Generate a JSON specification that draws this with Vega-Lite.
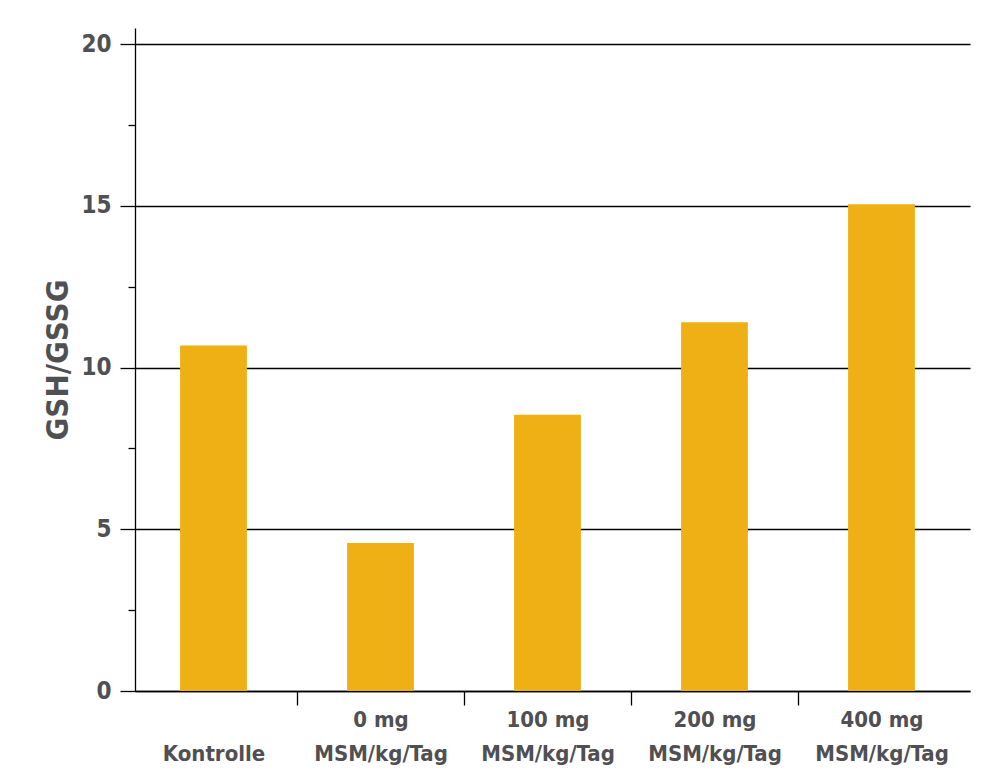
{
  "$schema": "https://vega.github.io/schema/vega-lite/v6.json",
  "width": 835,
  "height": 663,
  "autosize": "none",
  "padding": {"left": 135, "top": 28, "right": 30, "bottom": 92},
  "background": "white",
  "config": {
    "view": {"stroke": null},
    "font": "DejaVu Sans Condensed"
  },
  "data": {
    "values": [
      {"gruppe": "Kontrolle", "wert": 10.68},
      {"gruppe": "0 mg MSM/kg/Tag", "wert": 4.58},
      {"gruppe": "100 mg MSM/kg/Tag", "wert": 8.54},
      {"gruppe": "200 mg MSM/kg/Tag", "wert": 11.4},
      {"gruppe": "400 mg MSM/kg/Tag", "wert": 15.05}
    ]
  },
  "mark": {"type": "bar", "color": "#EFB015"},
  "encoding": {
    "x": {
      "field": "gruppe",
      "type": "nominal",
      "sort": null,
      "scale": {"paddingInner": 0.6, "paddingOuter": 0.3, "align": 0.45},
      "axis": {
        "title": null,
        "labelAngle": 0,
        "tickSize": 14,
        "tickOffset": -83.5,
        "labelOffset": 83.5,
        "tickColor": "black",
        "tickWidth": 1.3,
        "tickOpacity": {"expr": "datum.value === 'Kontrolle' ? 0 : 1"},
        "domainColor": "black",
        "domainWidth": 1.3,
        "labelFont": "DejaVu Sans Condensed",
        "labelFontWeight": "bold",
        "labelFontSize": 22,
        "labelColor": "#505053",
        "labelBaseline": "top",
        "labelLineHeight": 34,
        "labelPadding": {"expr": "datum.value === 'Kontrolle' ? 38 : 4"},
        "labelLimit": 300,
        "labelExpr": "indexof(datum.value, ' MSM') > 0 ? [replace(datum.value, ' MSM/kg/Tag', ''), 'MSM/kg/Tag'] : datum.value"
      }
    },
    "y": {
      "field": "wert",
      "type": "quantitative",
      "scale": {"domain": [0, 20.5], "nice": false},
      "axis": {
        "title": "GSH/GSSG",
        "titleFont": "DejaVu Sans Condensed",
        "titleFontWeight": "bold",
        "titleFontSize": 31,
        "titleColor": "#505053",
        "titlePadding": 6,
        "values": [0, 2.5, 5, 7.5, 10, 12.5, 15, 17.5, 20],
        "labelExpr": "datum.value % 5 === 0 ? datum.label : ''",
        "grid": true,
        "gridColor": "black",
        "gridWidth": 1.3,
        "gridOpacity": {"expr": "datum.value % 5 === 0 ? 1 : 0"},
        "tickSize": {"expr": "datum.value % 5 === 0 ? 15 : 7"},
        "tickColor": "black",
        "tickWidth": 1.3,
        "domainColor": "black",
        "domainWidth": 1.3,
        "labelFont": "DejaVu Sans Condensed",
        "labelFontWeight": "bold",
        "labelFontSize": 24,
        "labelColor": "#505053",
        "labelPadding": 9
      }
    }
  }
}
